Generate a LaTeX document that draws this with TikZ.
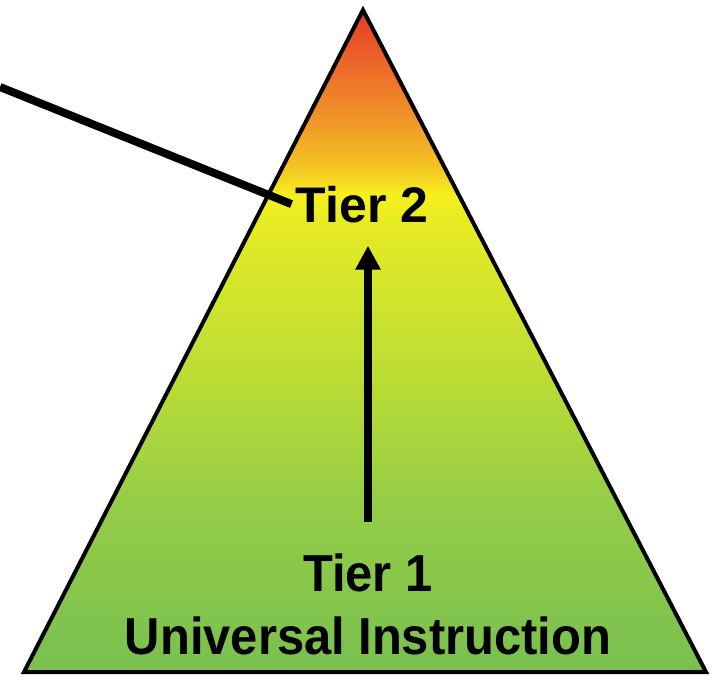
\documentclass[tikz,border=0pt]{standalone}
\usepackage{xcolor}
\usepackage{fontspec}
\setmainfont{Liberation Sans}
\usepackage{tikz}
\usetikzlibrary{arrows.meta,positioning}

\definecolor{pyrA}{RGB}{120,192,80}
\definecolor{pyrB}{RGB}{150,205,70}
\definecolor{pyrC}{RGB}{180,218,55}
\definecolor{pyrD}{RGB}{208,228,45}
\definecolor{pyrE}{RGB}{228,234,35}
\definecolor{pyrF}{RGB}{245,240,30}
\definecolor{pyrG}{RGB}{244,200,35}
\definecolor{pyrH}{RGB}{240,150,40}
\definecolor{pyrI}{RGB}{236,100,40}
\definecolor{pyrJ}{RGB}{230,60,40}

% green at the base, red at the tip
\pgfdeclareverticalshading{pyramid}{100bp}{color(0bp)=(pyrA); color(25bp)=(pyrA);
  color(38bp)=(pyrB); color(45.5bp)=(pyrC); color(53bp)=(pyrD); color(58.4bp)=(pyrE);
  color(61bp)=(pyrF); color(62.9bp)=(pyrG); color(66.7bp)=(pyrH); color(71.2bp)=(pyrI);
  color(75bp)=(pyrJ); color(100bp)=(pyrJ)}

\begin{document}
\begin{tikzpicture}[
    x=1pt, y=-1pt,
    tier/.style={font=\bfseries\fontsize{52}{63}\selectfont, align=center,
                 inner sep=4pt},
    arrow/.style={-{Triangle[length=24pt,width=24pt]}, line width=8pt},
    pointer/.style={line width=8pt}
]
\useasboundingbox (0,0) rectangle (715,680);

\shade[shading=pyramid, draw=black, line width=4pt, line join=miter]
  (363,10) -- (706,672) -- (24,672) -- cycle;

\node[tier, font=\bfseries\fontsize{50}{60}\selectfont, anchor=base] (tier2)
  at (362,222) {Tier 2};
\node[tier] (tier1) at (368,604)
  {\scalebox{0.94}[1]{Tier 1}\\\scalebox{0.94}[1]{Universal Instruction}};

\coordinate (callout) at (0,87);

\draw[arrow, shorten <=27pt, shorten >=19pt] (tier1.north) -- (tier1.north |- tier2.south);
\draw[pointer] (callout) -- (tier2.west);
\end{tikzpicture}
\end{document}
